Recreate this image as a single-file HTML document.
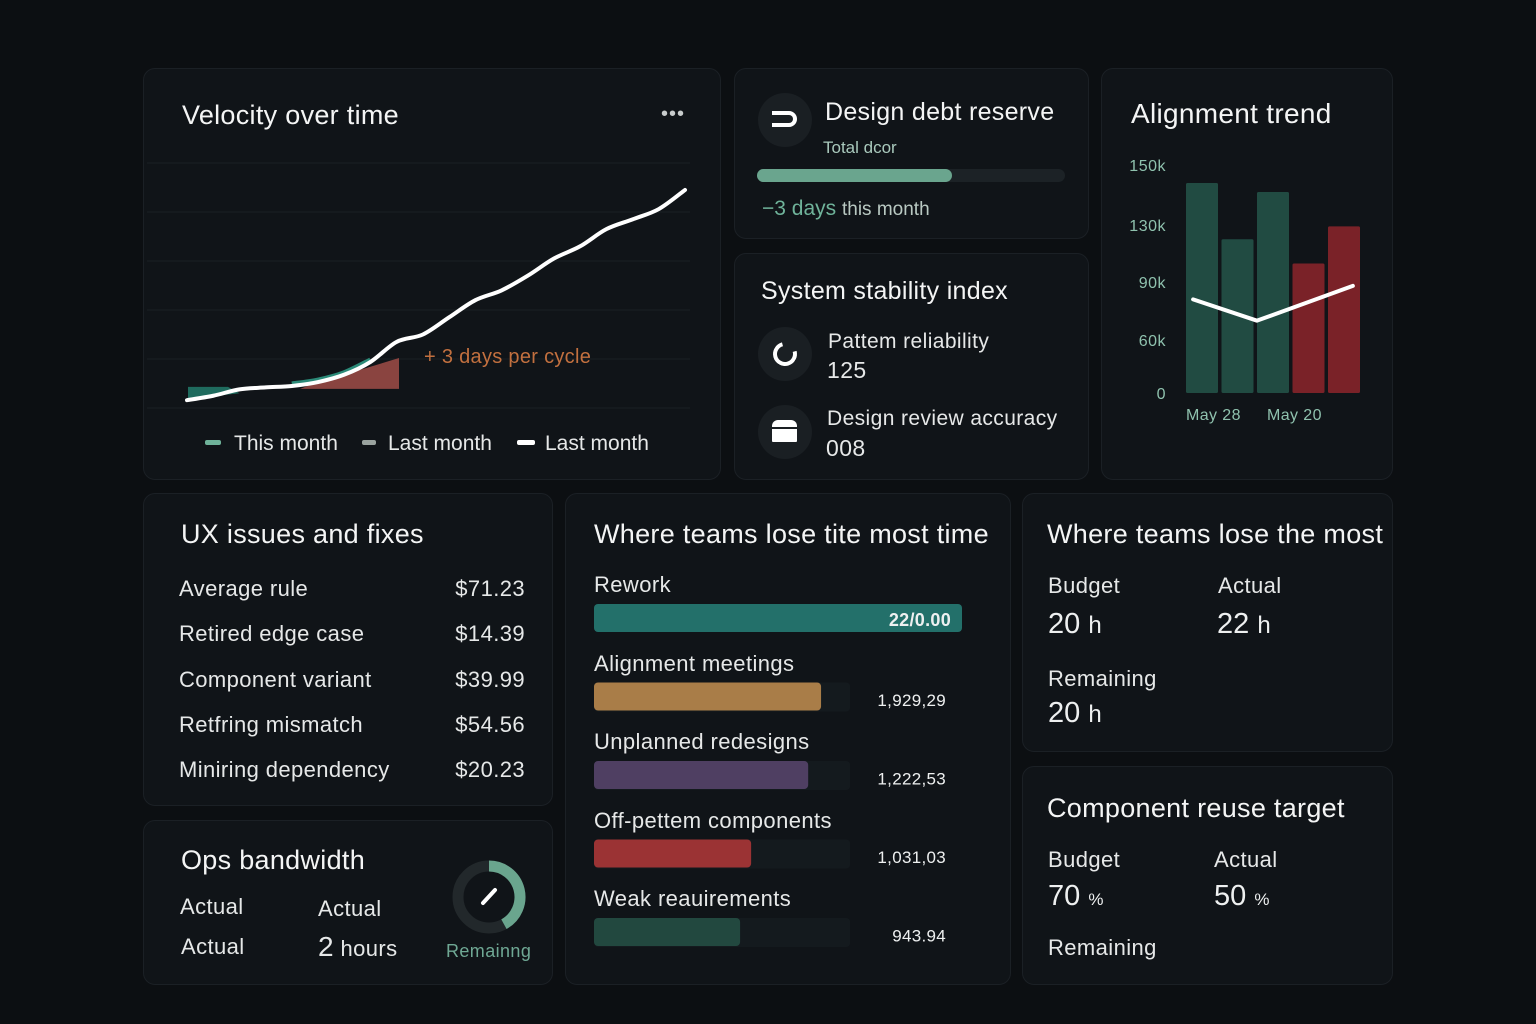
<!DOCTYPE html>
<html><head><meta charset="utf-8">
<style>
*{margin:0;padding:0;box-sizing:border-box}
body{width:1536px;height:1024px;background:#0c0f12;font-family:"Liberation Sans",sans-serif;color:#eef0f0;position:relative;overflow:hidden}
.card{position:absolute;background:#101418;border:1px solid #1b2025;border-radius:12px}
.t{position:absolute;white-space:nowrap;line-height:1}
.title{font-size:27px;letter-spacing:0.3px;color:#f4f5f5}
.lbl{font-size:22px;letter-spacing:0.4px;color:#e6e8e8}
.mut{color:#7fb7a2}
svg{position:absolute;left:0;top:0}
</style></head><body>

<div class="card" style="left:143px;top:68px;width:578px;height:412px"></div>
<div class="card" style="left:734px;top:68px;width:355px;height:171px"></div>
<div class="card" style="left:734px;top:253px;width:355px;height:227px"></div>
<div class="card" style="left:1101px;top:68px;width:292px;height:412px"></div>
<div class="card" style="left:143px;top:493px;width:410px;height:313px"></div>
<div class="card" style="left:143px;top:820px;width:410px;height:165px"></div>
<div class="card" style="left:565px;top:493px;width:446px;height:492px"></div>
<div class="card" style="left:1022px;top:493px;width:371px;height:259px"></div>
<div class="card" style="left:1022px;top:766px;width:371px;height:219px"></div>

<svg width="1536" height="1024" id="chart"></svg>

<!-- Velocity -->
<div class="t title" style="left:182px;top:102px">Velocity over time</div>
<div class="t" style="left:661px;top:104px;font-size:20px;color:#c8cccc;letter-spacing:1px">•••</div>
<div class="t" style="left:424px;top:347px;font-size:20px;letter-spacing:0.3px;color:#c2703f">+ 3 days per cycle</div>
<div style="position:absolute;left:205px;top:440px;width:16px;height:5px;background:#6fb39a;border-radius:2px"></div>
<div class="t lbl" style="left:234px;top:433px;font-size:21px;letter-spacing:0">This month</div>
<div style="position:absolute;left:362px;top:440px;width:14px;height:5px;background:#9aa39f;border-radius:2px"></div>
<div class="t lbl" style="left:388px;top:433px;font-size:21px;letter-spacing:0">Last month</div>
<div style="position:absolute;left:517px;top:440px;width:18px;height:5px;background:#fff;border-radius:2px"></div>
<div class="t lbl" style="left:545px;top:433px;font-size:21px;letter-spacing:0">Last month</div>

<!-- Design debt -->
<div style="position:absolute;left:758px;top:93px;width:54px;height:54px;border-radius:50%;background:#1a1f23"></div>
<div class="t" style="left:772px;top:111px;width:25px;height:16px;border:4px solid #fff;border-left:none;border-radius:0 9px 9px 0"></div>
<div class="t title" style="left:825px;top:100px;font-size:25px">Design debt reserve</div>
<div class="t mut" style="left:823px;top:139px;font-size:17px;color:#a9c9bc">Total dcor</div>
<div style="position:absolute;left:757px;top:169px;width:308px;height:13px;border-radius:7px;background:#1c2226"></div>
<div style="position:absolute;left:757px;top:169px;width:195px;height:13px;border-radius:7px;background:#6aa58e"></div>
<div class="t mut" style="left:762px;top:198px;font-size:21px;color:#6fb39a">−3 days <span style="font-size:19px;color:#b9c9c2">this month</span></div>

<!-- Stability -->
<div class="t title" style="left:761px;top:279px;font-size:25px">System stability index</div>
<div style="position:absolute;left:758px;top:327px;width:54px;height:54px;border-radius:50%;background:#1a1f23"></div>
<div style="position:absolute;left:773px;top:342px;width:24px;height:24px;border-radius:50%;border:4px solid #fff;border-top-color:transparent;transform:rotate(30deg)"></div>
<div class="t lbl" style="left:828px;top:331px;font-size:21px">Pattem reliability</div>
<div class="t lbl" style="left:827px;top:359px;font-size:23px">125</div>
<div style="position:absolute;left:758px;top:405px;width:54px;height:54px;border-radius:50%;background:#1a1f23"></div>
<div style="position:absolute;left:772px;top:420px;width:25px;height:22px;background:#fff;border-radius:6px 6px 1px 1px;border-top:0"></div>
<div style="position:absolute;left:772px;top:427px;width:25px;height:2px;background:#1a1f23"></div>
<div class="t lbl" style="left:827px;top:408px;font-size:21px">Design review accuracy</div>
<div class="t lbl" style="left:826px;top:437px;font-size:23px">008</div>

<!-- Alignment -->
<div class="t title" style="left:1131px;top:100px;font-size:28px">Alignment trend</div>

<!-- UX issues -->
<div class="t title" style="left:181px;top:521px">UX issues and fixes</div>
<div id="uxrows"></div>

<!-- Ops -->
<div class="t title" style="left:181px;top:847px">Ops bandwidth</div>
<div class="t lbl" style="left:180px;top:896px">Actual</div>
<div class="t lbl" style="left:318px;top:898px">Actual</div>
<div class="t lbl" style="left:181px;top:936px">Actual</div>
<div class="t lbl" style="left:318px;top:933px"><span style="font-size:28px">2</span> hours</div>
<div class="t mut" style="left:446px;top:942px;font-size:18px;letter-spacing:0.4px;color:#6fa894">Remainng</div>

<!-- Lose time -->
<div class="t title" style="left:594px;top:521px">Where teams lose tite most time</div>
<div id="loserows"></div>

<!-- Lose most -->
<div class="t title" style="left:1047px;top:521px">Where teams lose the most</div>
<div class="t lbl" style="left:1048px;top:575px">Budget</div>
<div class="t" style="left:1048px;top:610px;font-size:29px">20 <span style="font-size:24px">h</span></div>
<div class="t lbl" style="left:1218px;top:575px">Actual</div>
<div class="t" style="left:1217px;top:610px;font-size:29px">22 <span style="font-size:24px">h</span></div>
<div class="t lbl" style="left:1048px;top:668px">Remaining</div>
<div class="t" style="left:1048px;top:699px;font-size:29px">20 <span style="font-size:24px">h</span></div>

<!-- Reuse -->
<div class="t title" style="left:1047px;top:795px">Component reuse target</div>
<div class="t lbl" style="left:1048px;top:849px">Budget</div>
<div class="t" style="left:1048px;top:882px;font-size:29px">70 <span style="font-size:17px">%</span></div>
<div class="t lbl" style="left:1214px;top:849px">Actual</div>
<div class="t" style="left:1214px;top:882px;font-size:29px">50 <span style="font-size:17px">%</span></div>
<div class="t lbl" style="left:1048px;top:937px">Remaining</div>

<script>
// ---- Velocity data ----
const velValues = [1.6,2.5,3.8,4.2,4.5,5.3,6.8,9.4,13.5,15,18.5,22,24,27,30.5,33,36.5,38.5,40.6,44.5];
const velGrid = [0,10,20,30,40,50];
// ---- Alignment data ----
const alignTicks = [0,60,90,130,150];
const alignTickLabels = ["0","60k","90k","130k","150k"];
const alignBars = [144,120,141,103,129];
const alignBarColors = ["g","g","g","r","r"];
const alignLine = [81,70,88];
const alignLineAt = [0.2,2.0,4.7];
const alignXLabels = ["May 28","May 20"];
// ---- UX issues ----
const uxNames = ["Average rule","Retired edge case","Component variant","Retfring mismatch","Miniring dependency"];
const uxPrices = ["$71.23","$14.39","$39.99","$54.56","$20.23"];
// ---- Lose time ----
const loseNames = ["Rework","Alignment meetings","Unplanned redesigns","Off-pettem components","Weak reauirements"];
const loseShare = [100,61.7,58.2,42.7,39.7];
const loseLabels = ["22/0.00","1,929,29","1,222,53","1,031,03","943.94"];
const loseColors = ["#23706a","#a97d48","#4f3f62","#9b3334","#22483f"];
// ---- Ops gauge ----
const opsGauge = [0.42];

const NS="http://www.w3.org/2000/svg";
const svg=document.getElementById('chart');
function mk(tag,attrs,parent){const e=document.createElementNS(NS,tag);for(const k in attrs)e.setAttribute(k,attrs[k]);(parent||svg).appendChild(e);return e;}

// Velocity scales
const vx=i=>187+i*(685-187)/(velValues.length-1);
const vy=v=>408-v*(408-163)/50;
velGrid.forEach(g=>{const l=mk('line',{x1:147,x2:690,y1:vy(g),y2:vy(g),stroke:'#1a1f23','stroke-width':1});

});
function smooth(pts){let d=`M${pts[0][0]},${pts[0][1]}`;for(let i=0;i<pts.length-1;i++){const p0=pts[Math.max(0,i-1)],p1=pts[i],p2=pts[i+1],p3=pts[Math.min(pts.length-1,i+2)];const c1=[p1[0]+(p2[0]-p0[0])/6,p1[1]+(p2[1]-p0[1])/6],c2=[p2[0]-(p3[0]-p1[0])/6,p2[1]-(p3[1]-p1[1])/6];d+=` C${c1[0]},${c1[1]} ${c2[0]},${c2[1]} ${p2[0]},${p2[1]}`;}return d;}
const vpts=velValues.map((v,i)=>[vx(i),vy(v)]);
// red annotation area
const base=3.9;
const rp=vpts.filter(p=>p[0]>=292&&p[0]<=370);
let rd=`M300,${vy(base)} L${rp.map(p=>p[0]+','+p[1]).join(' L')} L399,${vy(10.2)} L399,${vy(base)} Z`;
const ra=mk('path',{d:rd,fill:'#8a4440'});


const ta=mk('path',{d:`M188,${vy(1.6)} L188,${vy(4.3)} L228,${vy(4.3)} L${vx(2)},${vy(3)} L${vx(1)},${vy(2.4)} Z`,fill:'#1f6b5e'});


const tl=mk('path',{d:smooth(vpts.slice(4,8)),fill:'none',stroke:'#2b8a78','stroke-width':5,transform:'translate(0,-2)'});


const vl=mk('path',{d:smooth(vpts),fill:'none',stroke:'#fff','stroke-width':4,'stroke-linecap':'round'});



// Alignment scales (piecewise through ticks)
const tickY=[393,340,282,225,165];
function ay(v){for(let i=0;i<alignTicks.length-1;i++){if(v<=alignTicks[i+1]){const t=(v-alignTicks[i])/(alignTicks[i+1]-alignTicks[i]);return tickY[i]+t*(tickY[i+1]-tickY[i]);}}return tickY[tickY.length-1];}
alignTicks.forEach((t,i)=>{const e=mk('text',{x:1166,y:ay(t)+6,'text-anchor':'end','font-size':16,'letter-spacing':0.5,fill:'#8fc2ae','font-family':'Liberation Sans'});e.textContent=alignTickLabels[i];

});
const bandX=i=>1186+i*35.5;
alignBars.forEach((v,i)=>{const r=mk('rect',{x:bandX(i),y:ay(v),width:32,height:ay(0)-ay(v),rx:1.5,fill:alignBarColors[i]==='g'?'#214b42':'#7a2228'});

});
const al=mk('polyline',{points:alignLine.map((v,i)=>bandX(alignLineAt[i])+','+ay(v)).join(' '),fill:'none',stroke:'#fff','stroke-width':4,'stroke-linecap':'round','stroke-linejoin':'round'});


alignXLabels.forEach((s,i)=>{const e=mk('text',{x:1186+i*81,y:420,'font-size':16,'letter-spacing':0.4,fill:'#8fc2ae','font-family':'Liberation Sans'});e.textContent=s;

});

// UX rows
const ux=document.getElementById('uxrows');
uxNames.forEach((n,i)=>{const y=578+i*45.3;
const a=document.createElement('div');a.className='t lbl';a.style.cssText=`left:179px;top:${y}px`;a.textContent=n;

ux.appendChild(a);
const b=document.createElement('div');b.className='t lbl';b.style.cssText=`right:${1536-525}px;top:${y}px`;b.textContent=uxPrices[i];

ux.appendChild(b);});

// Lose time bars
const lsx=v=>v*368/100;
const lr=document.getElementById('loserows');
loseNames.forEach((n,i)=>{const y=574+i*78.5;
const a=document.createElement('div');a.className='t lbl';a.style.cssText=`left:594px;top:${y}px`;a.textContent=n;

lr.appendChild(a);
if(i>0){const tr=mk('rect',{x:594,y:y+30,width:lsx(69.6),height:29,rx:4,fill:'#141a1e'});

}
const r=mk('rect',{x:594,y:y+30,width:lsx(loseShare[i]),height:28,rx:4,fill:loseColors[i]});


const t=mk('text',{x:i===0?951:946,y:i===0?y+52:y+131-78.5+1,'text-anchor':'end','font-size':i===0?18:17,'font-weight':i===0?'bold':'normal','letter-spacing':0.3,fill:'#eef0f0','font-family':'Liberation Sans'});
t.textContent=loseLabels[i];

});

// Ops gauge
const cx=489,cy=897,R=31;
const gt=mk('circle',{cx,cy,r:R,fill:'none',stroke:'#22282b','stroke-width':11});


const ang=opsGauge[0]*2*Math.PI;
const ex=cx+R*Math.sin(ang),ey=cy-R*Math.cos(ang);
const ga=mk('path',{d:`M${cx},${cy-R} A${R},${R} 0 ${ang>Math.PI?1:0} 1 ${ex},${ey}`,fill:'none',stroke:'#6aa58e','stroke-width':11});


const nd=mk('line',{x1:cx-6,y1:cy+6,x2:cx+6,y2:cy-7,stroke:'#fff','stroke-width':4,'stroke-linecap':'round'});


</script>
</body></html>
